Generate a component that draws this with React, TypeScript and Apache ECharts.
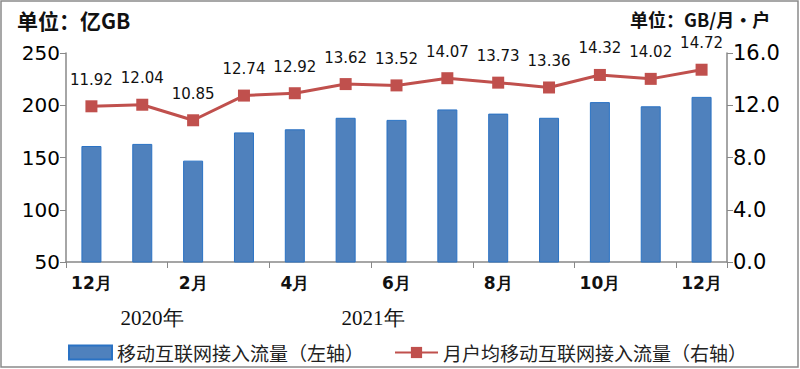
import React, { useEffect, useRef } from "react";
import * as echarts from "echarts";

const categories = ["12月", "1月", "2月", "3月", "4月", "5月", "6月", "7月", "8月", "9月", "10月", "11月", "12月"];
const trafficValues = [161, 163, 147, 174, 177, 188, 186, 196, 192, 188, 203, 199, 208];
const perUserValues = [11.92, 12.04, 10.85, 12.74, 12.92, 13.62, 13.52, 14.07, 13.73, 13.36, 14.32, 14.02, 14.72];
const barName = "移动互联网接入流量（左轴）";
const lineName = "月户均移动互联网接入流量（右轴）";
const yearLabels = ["2020年", "2021年"];

export default function App() {
  const ref = useRef<HTMLDivElement>(null);
  useEffect(() => {
    if (!ref.current) return;
    const chart = echarts.init(ref.current, null, { renderer: "svg" });
    const sans = "DejaVu Sans";
    const cjk = "'Noto Sans CJK SC'";
    chart.setOption({
      animation: false,
      backgroundColor: "#fff",
      grid: { left: 66, right: 73, top: 53, bottom: 107 },
      legend: {
        left: 63,
        top: 338,
        itemWidth: 43,
        itemHeight: 14,
        itemGap: 30,
        textStyle: { fontFamily: cjk, fontSize: 19, color: "#222" },
        data: [
          { name: barName, icon: "rect" },
          { name: lineName },
        ],
      },
      xAxis: {
        type: "category",
        data: categories,
        boundaryGap: true,
        axisLine: { lineStyle: { color: "#888", width: 1.5 } },
        axisTick: { show: true, length: 6, inside: false, lineStyle: { color: "#888" } },
        axisLabel: {
          interval: 1,
          color: "#111",
          fontFamily: sans,
          fontSize: 17,
          fontWeight: "bold",
          margin: 12,
        },
      },
      yAxis: [
        {
          type: "value",
          min: 50,
          max: 250,
          interval: 50,
          splitLine: { show: false },
          axisLine: { show: true, lineStyle: { color: "#888", width: 1.5 } },
          axisTick: { show: true, length: 6, lineStyle: { color: "#888" } },
          axisLabel: { color: "#000", fontFamily: sans, fontSize: 20, margin: 6 },
        },
        {
          type: "value",
          min: 0,
          max: 16,
          interval: 4,
          splitLine: { show: false },
          axisLine: { show: true, lineStyle: { color: "#888", width: 1.5 } },
          axisTick: { show: true, length: 6, lineStyle: { color: "#888" } },
          axisLabel: {
            color: "#000",
            fontFamily: sans,
            fontSize: 21,
            margin: 6,
            formatter: (v: number) => v.toFixed(1),
          },
        },
      ],
      series: [
        {
          name: barName,
          type: "bar",
          yAxisIndex: 0,
          data: trafficValues,
          barWidth: 20,
          itemStyle: { color: "#4F81BD", borderColor: "#2A72C4", borderWidth: 1 },
        },
        {
          name: lineName,
          type: "line",
          yAxisIndex: 1,
          data: perUserValues,
          symbol: "rect",
          symbolSize: 12,
          lineStyle: { color: "#C0504D", width: 3 },
          itemStyle: { color: "#C0504D" },
          label: {
            show: true,
            position: "top",
            distance: 13,
            color: "#111",
            fontFamily: sans,
            fontSize: 15,
            formatter: (p: any) => p.value.toFixed(2),
          },
        },
      ],
      graphic: [
        {
          type: "rect",
          shape: { x: 1, y: 1, width: 797, height: 366 },
          style: { fill: "none", stroke: "#8a8a8a", lineWidth: 1.5 },
          silent: true,
        },
        {
          type: "text",
          left: 17,
          top: 9,
          style: { text: "单位：亿GB", fontFamily: cjk, fontSize: 21, fontWeight: "bold", fill: "#111" },
        },
        {
          type: "text",
          left: 630,
          top: 10,
          style: { text: "单位：GB/月·户", fontFamily: cjk, fontSize: 18, fontWeight: "bold", fill: "#111" },
        },
        {
          type: "text",
          x: 152,
          y: 318,
          style: {
            text: yearLabels[0],
            fontFamily: "Liberation Serif",
            fontSize: 21,
            fill: "#111",
            align: "center",
            verticalAlign: "middle",
          },
        },
        {
          type: "text",
          x: 373,
          y: 318,
          style: {
            text: yearLabels[1],
            fontFamily: "Liberation Serif",
            fontSize: 21,
            fill: "#111",
            align: "center",
            verticalAlign: "middle",
          },
        },
      ],
    });
    return () => chart.dispose();
  }, []);
  return <div ref={ref} style={{ width: 800, height: 369, position: "absolute", left: 0, top: 0 }} />;
}
